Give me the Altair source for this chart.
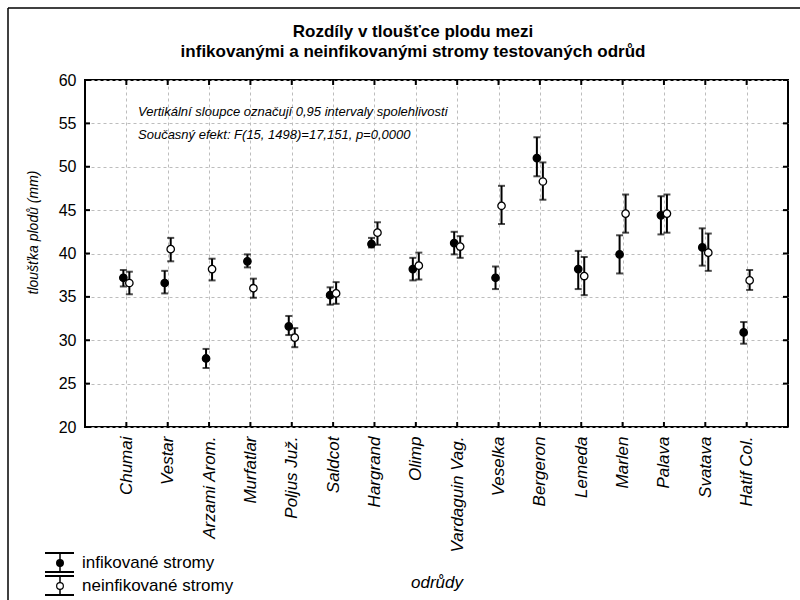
import altair as alt
import pandas as pd

# Varieties (x categories)
categories = ["Chumai", "Vestar", "Arzami Arom.", "Murfatlar", "Poljus Juž.",
              "Saldcot", "Hargrand", "Olimp", "Vardaguin Vag.", "Veselka",
              "Bergeron", "Lemeda", "Marlen", "Palava", "Svatava", "Hatif Col."]

series_names = ["infikované stromy", "neinfikované stromy"]

# Mean fruit thickness (mm) with 0.95 confidence limits
inf_mean = [37.2, 36.6, 27.9, 39.1, 31.6, 35.2, 41.1, 38.2, 41.2, 37.2, 51.0, 38.2, 39.9, 44.4, 40.7, 30.9]
inf_lo   = [36.2, 35.4, 26.8, 38.4, 30.6, 34.1, 40.7, 36.9, 39.9, 35.9, 48.9, 35.9, 37.7, 42.2, 38.6, 29.6]
inf_hi   = [38.1, 38.0, 29.0, 39.9, 32.8, 36.1, 41.8, 39.5, 42.5, 38.5, 53.4, 40.3, 42.1, 46.6, 42.9, 32.1]

non_mean = [36.6, 40.5, 38.2, 36.0, 30.3, 35.4, 42.4, 38.6, 40.8, 45.5, 48.3, 37.4, 44.6, 44.6, 40.1, 36.9]
non_lo   = [35.3, 39.1, 36.9, 34.9, 29.2, 34.2, 41.0, 37.0, 39.5, 43.4, 46.2, 35.2, 42.4, 42.4, 38.0, 35.8]
non_hi   = [37.9, 41.8, 39.4, 37.1, 31.4, 36.7, 43.6, 40.1, 42.0, 47.8, 50.5, 39.6, 46.8, 46.8, 42.3, 38.1]

y_ticks = [20, 25, 30, 35, 40, 45, 50, 55, 60]

title_lines = ["Rozdíly v tloušťce plodu mezi",
               "infikovanými a neinfikovanými stromy testovaných odrůd"]
note_lines = ["Vertikální sloupce označují 0,95 intervaly spolehlivosti",
              "Současný efekt: F(15, 1498)=17,151, p=0,0000"]
x_title = "odrůdy"

W, H = 703, 347
FONT = "Liberation Sans"

inf_df = pd.DataFrame({"odruda": categories, "mean": inf_mean, "lo": inf_lo, "hi": inf_hi})
non_df = pd.DataFrame({"odruda": categories, "mean": non_mean, "lo": non_lo, "hi": non_hi})
cat_df = pd.DataFrame({"odruda": categories})
ytick_df = pd.DataFrame({"v": y_ticks})
one = cat_df.head(1)

x_axis = alt.Axis(title=None, labelAngle=-90, labelFontStyle="italic",
                  labelFontSize=17, labelFont=FONT, labelPadding=9,
                  labelColor="black", ticks=False, domain=False,
                  grid=True, gridColor="#bdbdbd", gridDash=[3, 3])
y_axis = alt.Axis(title="tloušťka plodů (mm)", values=y_ticks, labelFontSize=16,
                  labelFont=FONT, labelColor="black", labelPadding=9, ticks=False,
                  domain=False, grid=True, gridColor="#bdbdbd", gridDash=[3, 3],
                  titleFont=FONT, titleFontSize=14, titleFontStyle="italic",
                  titleFontWeight="normal", titleColor="black",
                  titleX=-52, titleY=152, titleAngle=-90,
                  titleAlign="center", titleBaseline="middle")
x_scale = alt.Scale(type="point", padding=1)
y_scale = alt.Scale(domain=[20, 60], nice=False, zero=False)


def X():
    return alt.X("odruda:N", sort=categories, scale=x_scale, axis=x_axis)


def Y(field):
    return alt.Y(field, type="quantitative", scale=y_scale, axis=y_axis)


def series_layers(df, off, filled):
    base = alt.Chart(df)
    rule = base.mark_rule(color="black", strokeWidth=2, xOffset=off).encode(
        x=X(), y=Y("lo"), y2="hi:Q")
    cap_lo = base.mark_tick(color="black", size=7, thickness=2, xOffset=off).encode(
        x=X(), y=Y("lo"))
    cap_hi = base.mark_tick(color="black", size=7, thickness=2, xOffset=off).encode(
        x=X(), y=Y("hi"))
    pt = base.mark_point(shape="circle", size=55, filled=True,
                         fill="black" if filled else "white", stroke="black",
                         strokeWidth=1.3, opacity=1, xOffset=off).encode(
        x=X(), y=Y("mean"))
    return [rule, cap_lo, cap_hi, pt]


# inward tick marks on all four sides of the frame
tick_bottom = alt.Chart(cat_df).mark_rule(color="black", strokeWidth=2).encode(
    x=X(), y=alt.value(H), y2=alt.value(H - 5))
tick_top = alt.Chart(cat_df).mark_rule(color="black", strokeWidth=2).encode(
    x=X(), y=alt.value(0), y2=alt.value(5))
tick_left = alt.Chart(ytick_df).mark_rule(color="black", strokeWidth=2).encode(
    y=Y("v"), x=alt.value(0), x2=alt.value(5))
tick_right = alt.Chart(ytick_df).mark_rule(color="black", strokeWidth=2).encode(
    y=Y("v"), x=alt.value(W), x2=alt.value(W - 5))

notes = alt.Chart(one).mark_text(
    text=note_lines, align="left", baseline="alphabetic", font=FONT,
    fontSize=13, fontStyle="italic", lineHeight=23, color="black").encode(
    x=alt.value(53), y=alt.value(36))

title = alt.Chart(one).mark_text(
    text=title_lines, align="center", baseline="alphabetic", font=FONT,
    fontSize=17, fontWeight="bold", lineHeight=20, color="black").encode(
    x=alt.value(328), y=alt.value(-43))

xtitle = alt.Chart(one).mark_text(
    text=x_title, align="center", baseline="alphabetic", font=FONT,
    fontSize=17, fontStyle="italic", color="black").encode(
    x=alt.value(352), y=alt.value(508))

# hand-built legend below the plot
legend_layers = []
for i, name in enumerate(series_names):
    cy = 483 + i * 23
    legend_layers += [
        alt.Chart(one).mark_rule(color="black", strokeWidth=2).encode(
            x=alt.value(-40), x2=alt.value(-11), y=alt.value(cy - 10)),
        alt.Chart(one).mark_rule(color="black", strokeWidth=2).encode(
            x=alt.value(-40), x2=alt.value(-11), y=alt.value(cy + 9)),
        alt.Chart(one).mark_rule(color="black", strokeWidth=1.5).encode(
            x=alt.value(-25), y=alt.value(cy - 10), y2=alt.value(cy + 9)),
        alt.Chart(one).mark_point(
            shape="circle", size=45, filled=True,
            fill="black" if i == 0 else "white", stroke="black",
            strokeWidth=1.2, opacity=1).encode(x=alt.value(-25), y=alt.value(cy)),
        alt.Chart(one).mark_text(
            text=name, align="left", baseline="middle", font=FONT, fontSize=17,
            color="black").encode(x=alt.value(-3), y=alt.value(cy)),
    ]

# outer page border (top and left edges)
border = [
    alt.Chart(one).mark_rule(color="black", strokeWidth=1.5).encode(
        x=alt.value(-77), x2=alt.value(W + 15), y=alt.value(-72)),
    alt.Chart(one).mark_rule(color="black", strokeWidth=1.5).encode(
        x=alt.value(-77), y=alt.value(-72), y2=alt.value(H + 180)),
]

layers = (series_layers(inf_df, -3, True)
          + series_layers(non_df, 3, False)
          + [tick_bottom, tick_top, tick_left, tick_right, notes, title, xtitle]
          + legend_layers + border)

chart = alt.layer(*layers).properties(
    width=W, height=H,
    autosize=alt.AutoSizeParams(type="none"),
    padding={"left": 85, "top": 80, "right": 12, "bottom": 173},
    background="white",
).configure_view(stroke="black", strokeWidth=2)

chart.save("out.html", embed_options={"renderer": "svg", "actions": False})
